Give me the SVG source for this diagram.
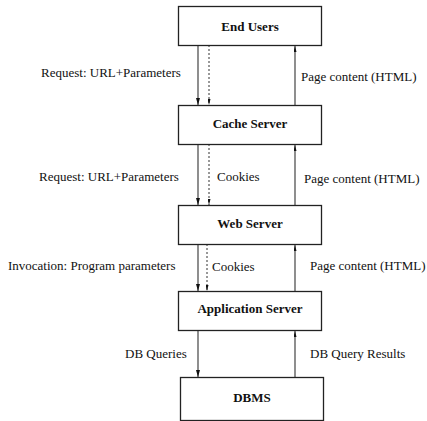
<svg xmlns="http://www.w3.org/2000/svg" width="427" height="421" viewBox="0 0 427 421">
<style>
.box{fill:#fff;stroke:#222;stroke-width:1.3}
text{font-family:'Liberation Serif','Times New Roman',Times,'DejaVu Serif',serif;font-size:13px;fill:#111}
.b{font-weight:bold;text-anchor:middle}
.ln{stroke:#444;stroke-width:1.2;fill:none}
.ds{stroke:#333;stroke-width:1;stroke-dasharray:2,2;fill:none}
</style>
<defs>
<marker id="ah" markerWidth="7" markerHeight="4" refX="7" refY="2" orient="auto" markerUnits="userSpaceOnUse" viewBox="0 0 7 4">
<path d="M0,0 L7,2 L0,4 Z" fill="#111"/>
</marker>
<marker id="ahs" markerWidth="6" markerHeight="3" refX="6" refY="1.5" orient="auto" markerUnits="userSpaceOnUse" viewBox="0 0 6 3">
<path d="M0,0 L6,1.5 L0,3 Z" fill="#111"/>
</marker>
</defs>
<rect width="427" height="421" fill="#fff"/>
<g id="connectors">
<line class="ln" x1="198" y1="45" x2="198" y2="105" marker-end="url(#ah)"/>
<line class="ds" x1="209" y1="45" x2="209" y2="105" marker-end="url(#ahs)"/>
<line class="ln" x1="295" y1="106" x2="295" y2="46" marker-end="url(#ahs)"/>
<line class="ln" x1="198" y1="144" x2="198" y2="205" marker-end="url(#ah)"/>
<line class="ds" x1="209" y1="144" x2="209" y2="205" marker-end="url(#ahs)"/>
<line class="ln" x1="295" y1="205" x2="295" y2="145" marker-end="url(#ahs)"/>
<line class="ln" x1="198" y1="244" x2="198" y2="291" marker-end="url(#ah)"/>
<line class="ds" x1="207" y1="244" x2="207" y2="291" marker-end="url(#ahs)"/>
<line class="ln" x1="295" y1="291" x2="295" y2="245" marker-end="url(#ahs)"/>
<line class="ln" x1="198" y1="330" x2="198" y2="377" marker-end="url(#ah)"/>
<line class="ln" x1="295" y1="378" x2="295" y2="331" marker-end="url(#ahs)"/>
<text x="41" y="77">Request: URL+Parameters</text>
<text x="301" y="81">Page content (HTML)</text>
<text x="39" y="181">Request: URL+Parameters</text>
<text x="217" y="181">Cookies</text>
<text x="304" y="183">Page content (HTML)</text>
<text x="8" y="270">Invocation: Program parameters</text>
<text x="212" y="271">Cookies</text>
<text x="310" y="270">Page content (HTML)</text>
<text x="125" y="358">DB Queries</text>
<text x="310" y="358">DB Query Results</text>
</g>
<g id="end-users"><rect class="box" x="178.5" y="6.5" width="143" height="39"/><text class="b" x="250" y="31">End Users</text></g>
<g id="cache-server"><rect class="box" x="178.5" y="105.5" width="143" height="39"/><text class="b" x="250" y="128">Cache Server</text></g>
<g id="web-server"><rect class="box" x="178.5" y="205.5" width="143" height="39"/><text class="b" x="250" y="228">Web Server</text></g>
<g id="application-server"><rect class="box" x="178.5" y="291.5" width="143" height="39"/><text class="b" x="250" y="313">Application Server</text></g>
<g id="dbms"><rect class="box" x="180.5" y="377.5" width="143" height="43"/><text class="b" x="252" y="402">DBMS</text></g>
</svg>
